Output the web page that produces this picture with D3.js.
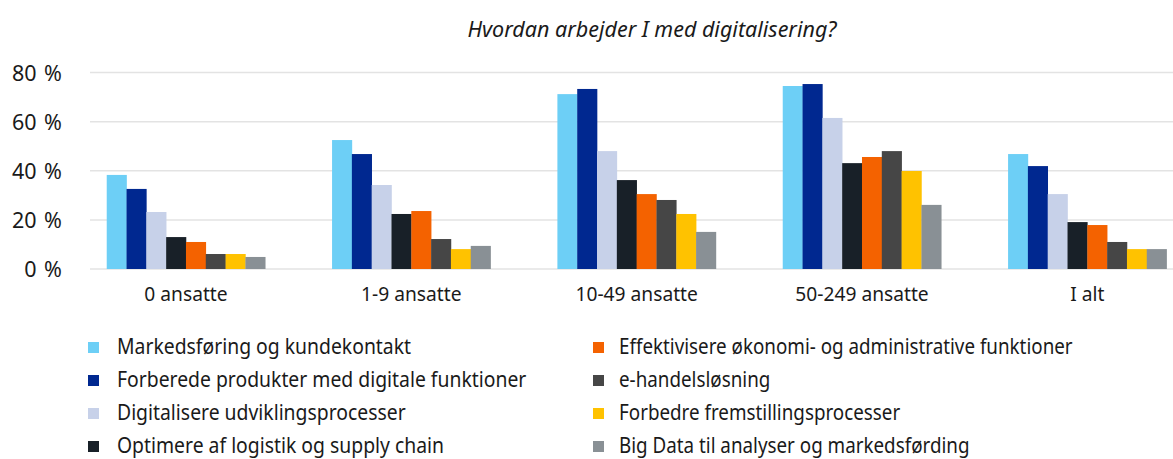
<!DOCTYPE html>
<html>
<head>
<meta charset="utf-8">
<script src="https://cdn.jsdelivr.net/npm/d3@7"></script>
<style>
  body { margin: 0; background: #fff; }
  text { font-family: "Noto Sans", sans-serif; fill: #1a1a1a; }
</style>
</head>
<body>
<div id="chart"></div>
<script>
const width = 1173, height = 459;

const categories = ["0 ansatte", "1-9 ansatte", "10-49 ansatte", "50-249 ansatte", "I alt"];
const seriesNames = [
    "Markedsføring og kundekontakt",
    "Forberede produkter med digitale funktioner",
    "Digitalisere udviklingsprocesser",
    "Optimere af logistik og supply chain",
    "Effektivisere økonomi- og administrative funktioner",
    "e-handelsløsning",
    "Forbedre fremstillingsprocesser",
    "Big Data til analyser og markedsførding"
];
const seriesColors = ["#6dcff6", "#002890", "#c7d1e9", "#182028", "#f46200", "#464646", "#ffc200", "#899095"];

// one array per series, values per category (percent)
const markedsforing = [38.3, 52.5, 71.2, 74.5, 46.8];
const produkter     = [32.6, 46.8, 73.3, 75.3, 41.9];
const udvikling     = [23.2, 34.2, 48.0, 61.5, 30.5];
const logistik      = [13.0, 22.4, 36.2, 43.1, 19.1];
const okonomi       = [11.0, 23.6, 30.5, 45.6, 17.9];
const ehandel       = [6.1, 12.2, 28.1, 48.0, 11.0];
const fremstilling  = [6.1, 8.1, 22.4, 39.9, 8.1];
const bigdata       = [4.9, 9.4, 15.1, 26.1, 8.1];
const seriesValues = [markedsforing, produkter, udvikling, logistik, okonomi, ehandel, fremstilling, bigdata];

const yTicks = [0, 20, 40, 60, 80];

let svg = d3.select("#chart")
    .append("svg")
    .attr("width", width)
    .attr("height", height);

let x0 = d3.scaleBand()
    .domain(categories)
    .range([73.3, 1200]);

let x1 = d3.scaleBand()
    .domain(d3.range(seriesNames.length))
    .range([0, 158.5]);

let y = d3.scaleLinear()
    .domain([0, 80])
    .range([269, 72.5]);

// gridlines
svg.append("g")
    .selectAll("line")
    .data(yTicks)
    .enter()
    .append("line")
    .attr("x1", 90)
    .attr("x2", width)
    .attr("y1", d => y(d))
    .attr("y2", d => y(d))
    .attr("stroke", "#e3e3e3")
    .attr("stroke-width", 1.5);

// y labels
svg.append("g")
    .selectAll("text")
    .data(yTicks)
    .enter()
    .append("text")
    .attr("x", 62)
    .attr("y", d => y(d) + 8)
    .style("text-anchor", "end")
    .style("font-size", "21.5px")
    .style("word-spacing", "2px")
    .text(d => d + " %");

// bars
let groups = svg.append("g")
    .selectAll("g")
    .data(categories)
    .enter()
    .append("g")
    .attr("transform", d => `translate(${x0(d) + (x0.bandwidth() - 158.5) / 2}, 0)`);

groups.selectAll("rect")
    .data((c, ci) => seriesValues.map((vals, si) => ({ s: si, v: vals[ci] })))
    .enter()
    .append("rect")
    .attr("x", d => x1(d.s))
    .attr("y", d => y(d.v))
    .attr("width", x1.bandwidth() + 0.3)
    .attr("height", d => y(0) - y(d.v))
    .attr("fill", d => seriesColors[d.s]);

// category labels
svg.append("g")
    .selectAll("text")
    .data(categories)
    .enter()
    .append("text")
    .attr("transform", d => `translate(${x0(d) + x0.bandwidth() / 2}, 301) scale(0.96, 1)`)
    .style("text-anchor", "middle")
    .style("font-size", "20px")
    .text(d => d);

// title
svg.append("text")
    .attr("x", 652)
    .attr("y", 37)
    .style("text-anchor", "middle")
    .style("font-size", "21.5px")
    .style("font-style", "italic")
    .text("Hvordan arbejder I med digitalisering?");

// legend: two columns, four rows
let legend = svg.append("g")
    .selectAll("g")
    .data(seriesNames)
    .enter()
    .append("g")
    .attr("transform", (d, i) => `translate(${i < 4 ? 88 : 593}, ${342 + (i % 4) * 33})`);

legend.append("rect")
    .attr("width", 11)
    .attr("height", 11)
    .attr("fill", (d, i) => seriesColors[i]);

legend.append("text")
    .attr("transform", (d, i) => i < 4 ? "translate(29, 12) scale(0.88, 1)" : "translate(26, 12) scale(0.855, 1)")
    .style("font-size", "22px")
    .text(d => d);
</script>
</body>
</html>
